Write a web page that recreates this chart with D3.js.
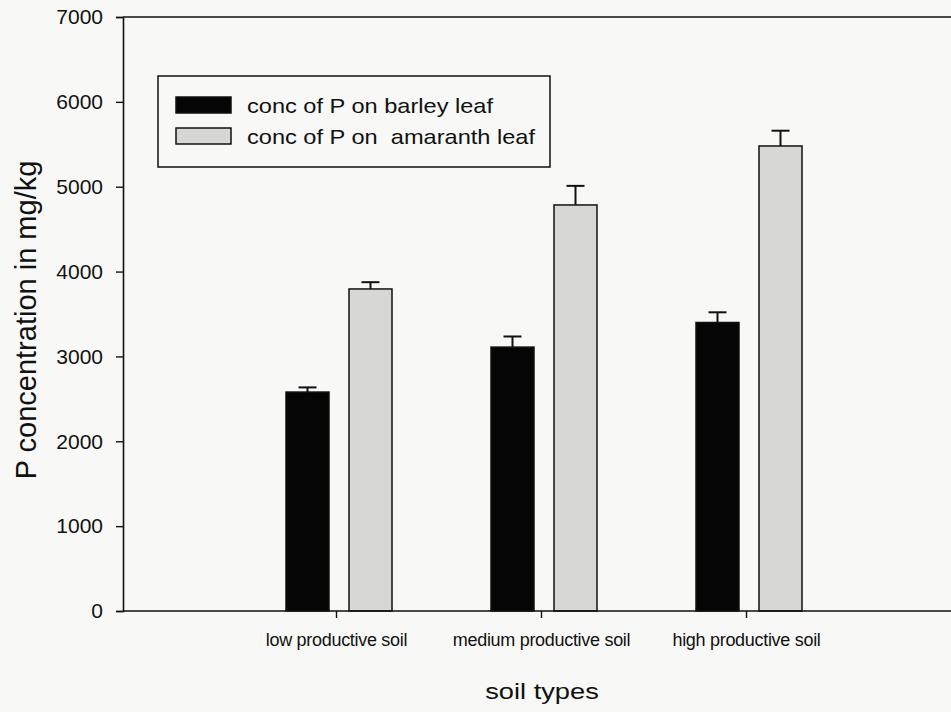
<!DOCTYPE html>
<html>
<head>
<meta charset="utf-8">
<script src="https://cdn.jsdelivr.net/npm/d3@7"></script>
<style>
  html, body { margin: 0; padding: 0; background: #f8f8f6; }
  svg { display: block; }
  text { font-family: "Liberation Sans", Arial, sans-serif; fill: #111; }
</style>
</head>
<body>
<svg id="chart" width="951" height="712"></svg>
<script>
// Soil categories and the two leaf series (mg/kg), with standard errors
const categories = ["low productive soil", "medium productive soil", "high productive soil"];
const barleyValues = [2580, 3110, 3400];
const barleyErrors = [55, 125, 120];
const amaranthValues = [3795, 4785, 5480];
const amaranthErrors = [80, 225, 180];
const yTicks = [0, 1000, 2000, 3000, 4000, 5000, 6000, 7000];
const seriesNames = ["conc of P on barley leaf", "conc of P on  amaranth leaf"];

const svg = d3.select("#chart");

// Categories sit at positions 1..3 on a 0..4 axis
const x = d3.scaleLinear().domain([0, 4]).range([131, 951]);
const y = d3.scaleLinear().domain([0, 7000]).range([611, 17]);
const axisX = 123;

const barW = 43;
const series = [
  { name: seriesNames[0], values: barleyValues, errors: barleyErrors, fill: "#050505", dx: -28.5 },
  { name: seriesNames[1], values: amaranthValues, errors: amaranthErrors, fill: "#d7d7d5", dx: 34.5 }
];

const plot = svg.append("g");

series.forEach(s => {
  // bars
  plot.selectAll(null).data(categories).enter().append("rect")
    .attr("x", (d, i) => x(i + 1) + s.dx - barW / 2)
    .attr("y", (d, i) => y(s.values[i]))
    .attr("width", barW)
    .attr("height", (d, i) => y(0) - y(s.values[i]))
    .attr("fill", s.fill)
    .attr("stroke", "#111")
    .attr("stroke-width", 1.5);

  // upper error bars
  const eg = plot.selectAll(null).data(categories).enter().append("g")
    .attr("stroke", "#111").attr("stroke-width", 2);
  eg.append("line")
    .attr("x1", (d, i) => x(i + 1) + s.dx)
    .attr("x2", (d, i) => x(i + 1) + s.dx)
    .attr("y1", (d, i) => y(s.values[i]))
    .attr("y2", (d, i) => y(s.values[i] + s.errors[i]));
  eg.append("line")
    .attr("x1", (d, i) => x(i + 1) + s.dx - 9)
    .attr("x2", (d, i) => x(i + 1) + s.dx + 9)
    .attr("y1", (d, i) => y(s.values[i] + s.errors[i]))
    .attr("y2", (d, i) => y(s.values[i] + s.errors[i]));
});

// top border of the frame
svg.append("line")
  .attr("x1", axisX).attr("x2", 951)
  .attr("y1", y(7000)).attr("y2", y(7000))
  .attr("stroke", "#111").attr("stroke-width", 1.6);

// y axis
const yAxis = d3.axisLeft(y).tickValues(yTicks).tickSize(7).tickPadding(13).tickFormat(d3.format("d"));
const gy = svg.append("g").attr("transform", `translate(${axisX},0)`).call(yAxis);
gy.select(".domain").attr("stroke", "#111").attr("stroke-width", 1.6);
gy.selectAll(".tick line").attr("stroke", "#111").attr("stroke-width", 1.4);
gy.selectAll(".tick text").attr("font-size", 21).attr("fill", "#111")
  .style("font-family", "'Liberation Sans', Arial, sans-serif");

// x axis
const xAxis = d3.axisBottom(x).tickValues([1, 2, 3]).tickSize(7).tickPadding(15)
  .tickFormat(d => categories[d - 1]);
const gx = svg.append("g").attr("transform", `translate(0,${y(0)})`).call(xAxis);
gx.select(".domain").attr("stroke", "#111").attr("stroke-width", 1.6)
  .attr("d", `M${axisX},0H951`);
gx.selectAll(".tick line").attr("stroke", "#111").attr("stroke-width", 1.4);
gx.selectAll(".tick text").attr("font-size", 18).attr("fill", "#111")
  .attr("letter-spacing", -0.3)
  .style("font-family", "'Liberation Sans', Arial, sans-serif");

// axis titles
svg.append("text")
  .attr("transform", `translate(36,320) rotate(-90)`)
  .attr("text-anchor", "middle")
  .attr("font-size", 29)
  .text("P concentration in mg/kg");

svg.append("text")
  .attr("transform", "translate(542,699) scale(1.24,1)")
  .attr("text-anchor", "middle")
  .attr("font-size", 22)
  .text("soil types");

// legend
const lg = svg.append("g").attr("transform", "translate(158,76)");
lg.append("rect").attr("width", 392).attr("height", 91)
  .attr("fill", "none").attr("stroke", "#111").attr("stroke-width", 1.5);
const rowY = [21, 52];
series.forEach((s, i) => {
  lg.append("rect")
    .attr("x", 18).attr("y", rowY[i])
    .attr("width", 55).attr("height", 16)
    .attr("fill", s.fill).attr("stroke", "#111").attr("stroke-width", 1.5);
  lg.append("text")
    .attr("transform", `translate(89,${rowY[i] + 16}) scale(1.18,1)`)
    .attr("font-size", 20)
    .attr("xml:space", "preserve")
    .style("white-space", "pre")
    .text(s.name);
});
</script>
</body>
</html>
